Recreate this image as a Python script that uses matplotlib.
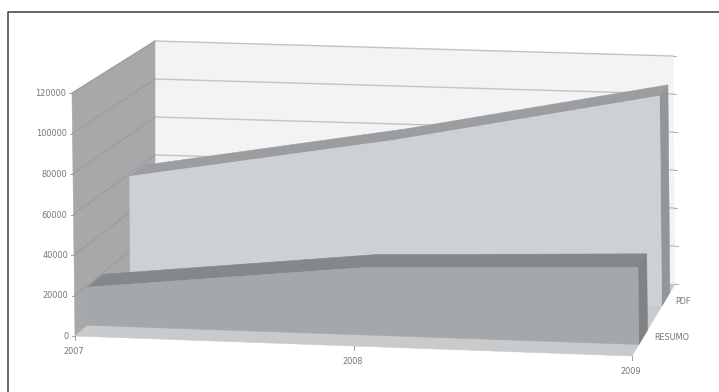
#!/usr/bin/env python3
"""3-D style area chart of yearly counts for the PDF and RESUMO series."""
import numpy as np
import matplotlib
matplotlib.use("Agg")
import matplotlib.pyplot as plt
from matplotlib.patches import Polygon

years = ["2007", "2008", "2009"]
value_ticks = [0, 20000, 40000, 60000, 80000, 100000, 120000]
series_names = ["PDF", "RESUMO"]
pdf_values = [58500, 81500, 108500]
resumo_values = [19000, 33500, 38500]

VMAX = 120000.0

# box corners in figure pixels, keyed (u, d, v): u along years, d into the
# chart, v up the value axis
CORNERS = {
    (0, 0, 0): (75, 336), (1, 0, 0): (632, 356),
    (0, 1, 0): (155, 269), (1, 1, 0): (675, 284),
    (0, 0, 1): (72, 93), (1, 0, 1): (629, 113),
    (0, 1, 1): (155, 41), (1, 1, 1): (673, 56),
}

WALL_BACK = "#f2f4f4"
WALL_LEFT = "#a6a8aa"
FLOOR = "#c9cacc"
GRID = "#c2c3c4"
GRID_LEFT = "#9a9c9e"
TEXT = "#747474"


def project(u, d, value):
    """Trilinear blend of the box corners, value given in data units."""
    v = value / VMAX
    x = y = 0.0
    for (cu, cd, cv), (px, py) in CORNERS.items():
        w = (u if cu else 1 - u) * (d if cd else 1 - d) * (v if cv else 1 - v)
        x += w * px
        y += w * py
    return x, y


def face(ax, pts, color, z):
    ax.add_patch(Polygon([project(*p) for p in pts], closed=True, facecolor=color,
                         edgecolor=color, linewidth=0.4, zorder=z))


def area_3d(ax, values, d0, d1, front, top, side, z):
    us = np.linspace(0, 1, len(values))
    for i in range(len(values) - 1):
        face(ax, [(us[i], d0, values[i]), (us[i + 1], d0, values[i + 1]),
                  (us[i + 1], d1, values[i + 1]), (us[i], d1, values[i])], top, z)
    face(ax, [(1, d0, 0), (1, d1, 0), (1, d1, values[-1]), (1, d0, values[-1])], side, z)
    outline = [(u, d0, val) for u, val in zip(us, values)]
    outline += [(1, d0, 0), (0, d0, 0)]
    face(ax, outline, front, z + 0.1)


fig = plt.figure(figsize=(7.19, 3.92), dpi=100, facecolor="white")
ax = fig.add_axes([0, 0, 1, 1])
ax.set_xlim(0, 719)
ax.set_ylim(392, 0)
ax.axis("off")

# outer frame
ax.plot([8, 8, 719], [392, 12, 12], color="#3c3c3c", lw=1.1, zorder=1)

# walls and floor
face(ax, [(0, 1, 0), (1, 1, 0), (1, 1, VMAX), (0, 1, VMAX)], WALL_BACK, 2)
face(ax, [(0, 0, 0), (0, 1, 0), (0, 1, VMAX), (0, 0, VMAX)], WALL_LEFT, 2)
face(ax, [(0, 0, 0), (1, 0, 0), (1, 1, 0), (0, 1, 0)], FLOOR, 2)

for val in value_ticks:
    pts = [project(0, 0, val), project(0, 1, val), project(1, 1, val)]
    if val == 0:
        continue
    ax.plot(*zip(pts[1], pts[2]), color=GRID, lw=1.0, zorder=3)
    ax.plot(*zip(pts[0], pts[1]), color=GRID_LEFT, lw=0.8, zorder=3)

area_3d(ax, pdf_values, 0.69, 0.88, "#cdd1d4", "#9b9da0", "#92959a", 4)
area_3d(ax, resumo_values, 0.16, 0.36, "#a5a8ab", "#84888b", "#7f8386", 5)

# value ticks on both sides
for val in value_ticks:
    x, y = project(0, 0, val)
    ax.plot([x - 3, x], [y, y], color="#a0a0a0", lw=0.7, zorder=6)
    ax.text(x - 6, y + 0.5, str(val), ha="right", va="center", fontsize=5.9, color=TEXT)
    x, y = project(1, 1, val)
    ax.plot([x, x + 3], [y, y], color="#b0b0b0", lw=0.7, zorder=6)

# year ticks along the front floor edge
for u, lab in zip(np.linspace(0, 1, len(years)), years):
    x, y = project(u, 0, 0)
    ax.plot([x, x], [y, y + 4], color="#a0a0a0", lw=0.7, zorder=6)
    ax.text(x - 1, y + 15.5, lab, ha="center", va="center", fontsize=5.9, color=TEXT)

# series names beside the right floor edge
for lab, d in zip(series_names, [0.76, 0.26]):
    x, y = project(1, d, 0)
    ax.text(x + 11, y + 0.5, lab, ha="left", va="center", fontsize=5.9, color=TEXT)

fig.savefig("out.png", dpi=100)
